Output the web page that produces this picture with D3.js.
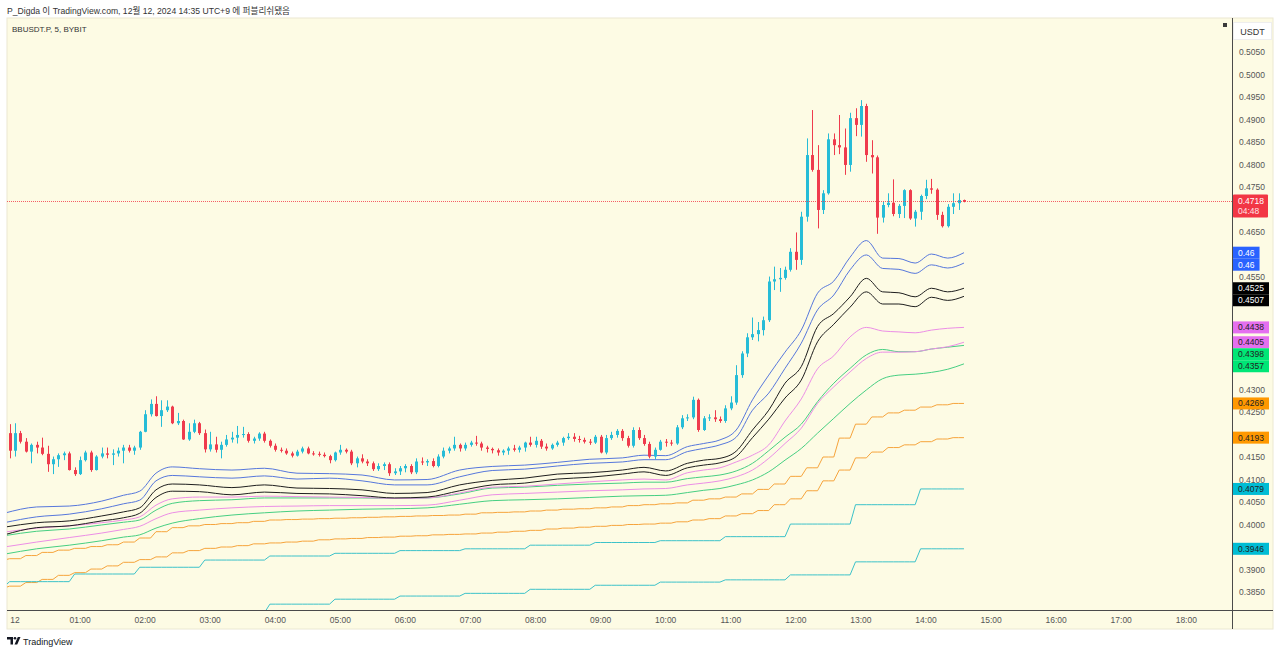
<!DOCTYPE html>
<html><head><meta charset="utf-8">
<script src="https://cdnjs.cloudflare.com/ajax/libs/d3/7.8.5/d3.min.js"></script>
<style>
html,body{margin:0;padding:0;background:#fff;}
svg{display:block;}
text{font-family:"Liberation Sans","Noto Sans CJK KR",Arial,sans-serif;}
</style></head><body>
<svg id="chart" width="1280" height="654"></svg>
<script>
// ---------------- DATA ----------------
const headerText = "P_Digda 이 TradingView.com, 12월 12, 2024 14:35 UTC+9 에 퍼블리쉬됐음";
const symbolText = "BBUSDT.P, 5, BYBIT";
const currency = "USDT";
const countdown = "04:48";
const dayStart = new Date(2024, 11, 12, 0, 0);
const axisEnd = new Date(2024, 11, 12, 18, 0);
const firstCandle = -1; // candle index (5-minute steps from 00:00) of the first candle

const open = [0.4203,0.4164,0.4203,0.4184,0.4162,0.4177,0.4171,0.4157,0.4134,0.4145,
0.4154,0.4158,0.4121,0.4112,0.4143,0.4160,0.4121,0.4151,0.4158,0.4155,
0.4158,0.4164,0.4171,0.4164,0.4171,0.4206,0.4245,0.4268,0.4241,0.4254,
0.4262,0.4225,0.4230,0.4189,0.4206,0.4225,0.4203,0.4167,0.4178,0.4166,
0.4177,0.4189,0.4193,0.4199,0.4201,0.4186,0.4191,0.4202,0.4186,0.4175,
0.4166,0.4164,0.4158,0.4153,0.4162,0.4169,0.4158,0.4157,0.4155,0.4152,
0.4143,0.4160,0.4166,0.4162,0.4136,0.4147,0.4140,0.4136,0.4123,0.4130,
0.4134,0.4114,0.4118,0.4125,0.4130,0.4116,0.4140,0.4138,0.4141,0.4130,
0.4151,0.4164,0.4169,0.4177,0.4169,0.4177,0.4182,0.4180,0.4171,0.4168,
0.4165,0.4160,0.4164,0.4169,0.4166,0.4171,0.4182,0.4177,0.4186,0.4173,
0.4169,0.4177,0.4182,0.4192,0.4195,0.4190,0.4188,0.4184,0.4182,0.4195,
0.4160,0.4192,0.4199,0.4208,0.4192,0.4175,0.4210,0.4192,0.4179,0.4151,
0.4166,0.4184,0.4182,0.4180,0.4216,0.4236,0.4238,0.4277,0.4210,0.4236,
0.4238,0.4234,0.4230,0.4258,0.4271,0.4332,0.4380,0.4416,0.4423,0.4432,
0.4454,0.4540,0.4545,0.4548,0.4566,0.4606,0.4588,0.4684,0.4821,0.4788,
0.4699,0.4736,0.4856,0.4843,0.4838,0.4799,0.4903,0.4888,0.4930,0.4821,
0.4816,0.4682,0.4710,0.4715,0.4690,0.4708,0.4743,0.4680,0.4695,0.4730,
0.4747,0.4744,0.4688,0.4663,0.4706,0.4714,0.4721];
const high = [0.4223,0.4225,0.4208,0.4192,0.4180,0.4184,0.4193,0.4175,0.4151,0.4158,
0.4162,0.4162,0.4127,0.4151,0.4164,0.4164,0.4154,0.4171,0.4171,0.4167,
0.4171,0.4177,0.4177,0.4175,0.4208,0.4254,0.4278,0.4285,0.4276,0.4276,
0.4264,0.4248,0.4233,0.4225,0.4233,0.4228,0.4211,0.4206,0.4195,0.4184,
0.4199,0.4206,0.4219,0.4217,0.4205,0.4195,0.4205,0.4206,0.4189,0.4180,
0.4171,0.4169,0.4162,0.4166,0.4173,0.4173,0.4163,0.4162,0.4160,0.4155,
0.4162,0.4177,0.4169,0.4166,0.4151,0.4156,0.4145,0.4140,0.4136,0.4138,
0.4138,0.4125,0.4130,0.4134,0.4134,0.4147,0.4149,0.4145,0.4147,0.4156,
0.4171,0.4173,0.4195,0.4180,0.4182,0.4186,0.4197,0.4184,0.4175,0.4171,
0.4169,0.4167,0.4173,0.4177,0.4175,0.4184,0.4195,0.4195,0.4190,0.4180,
0.4180,0.4186,0.4195,0.4203,0.4203,0.4197,0.4193,0.4190,0.4199,0.4199,
0.4199,0.4206,0.4212,0.4212,0.4197,0.4216,0.4216,0.4199,0.4184,0.4171,
0.4188,0.4190,0.4188,0.4221,0.4243,0.4245,0.4284,0.4280,0.4241,0.4245,
0.4254,0.4240,0.4265,0.4285,0.4354,0.4385,0.4425,0.4460,0.4450,0.4462,
0.4551,0.4573,0.4570,0.4573,0.4614,0.4649,0.4695,0.4858,0.4921,0.4843,
0.4743,0.4869,0.4869,0.4910,0.4880,0.4915,0.4925,0.4943,0.4935,0.4854,
0.4820,0.4718,0.4736,0.4767,0.4712,0.4745,0.4745,0.4699,0.4733,0.4766,
0.4768,0.4747,0.4695,0.4712,0.4736,0.4736,0.4722];
const low = [0.4147,0.4151,0.4180,0.4160,0.4136,0.4158,0.4154,0.4117,0.4112,0.4128,
0.4143,0.4120,0.4108,0.4110,0.4140,0.4117,0.4120,0.4147,0.4147,0.4132,
0.4151,0.4136,0.4160,0.4155,0.4166,0.4205,0.4240,0.4240,0.4217,0.4250,
0.4223,0.4221,0.4188,0.4186,0.4203,0.4199,0.4160,0.4162,0.4160,0.4147,
0.4173,0.4182,0.4180,0.4193,0.4182,0.4180,0.4186,0.4182,0.4171,0.4162,
0.4160,0.4155,0.4149,0.4151,0.4158,0.4156,0.4153,0.4151,0.4149,0.4136,
0.4140,0.4155,0.4158,0.4132,0.4127,0.4136,0.4130,0.4119,0.4119,0.4121,
0.4108,0.4110,0.4110,0.4116,0.4112,0.4112,0.4132,0.4130,0.4127,0.4127,
0.4147,0.4158,0.4164,0.4162,0.4164,0.4173,0.4175,0.4164,0.4160,0.4158,
0.4153,0.4154,0.4155,0.4162,0.4160,0.4162,0.4173,0.4171,0.4168,0.4164,
0.4166,0.4173,0.4175,0.4188,0.4184,0.4182,0.4180,0.4177,0.4179,0.4158,
0.4156,0.4188,0.4193,0.4186,0.4171,0.4171,0.4188,0.4175,0.4147,0.4145,
0.4164,0.4173,0.4175,0.4177,0.4212,0.4230,0.4234,0.4206,0.4208,0.4230,
0.4228,0.4226,0.4226,0.4254,0.4266,0.4326,0.4372,0.4410,0.4407,0.4420,
0.4450,0.4521,0.4517,0.4544,0.4562,0.4566,0.4577,0.4673,0.4784,0.4658,
0.4690,0.4733,0.4821,0.4823,0.4777,0.4784,0.4863,0.4862,0.4806,0.4780,
0.4646,0.4671,0.4705,0.4685,0.4681,0.4681,0.4677,0.4662,0.4677,0.4723,
0.4735,0.4677,0.4660,0.4660,0.4690,0.4699,0.4716];
const close = [0.4164,0.4203,0.4184,0.4162,0.4177,0.4171,0.4157,0.4134,0.4145,0.4154,
0.4158,0.4121,0.4112,0.4143,0.4160,0.4121,0.4151,0.4158,0.4155,0.4158,
0.4164,0.4171,0.4164,0.4171,0.4206,0.4245,0.4268,0.4241,0.4254,0.4262,
0.4225,0.4230,0.4189,0.4206,0.4225,0.4203,0.4167,0.4178,0.4166,0.4177,
0.4189,0.4193,0.4199,0.4201,0.4186,0.4191,0.4202,0.4186,0.4175,0.4166,
0.4164,0.4158,0.4153,0.4162,0.4169,0.4158,0.4157,0.4155,0.4152,0.4143,
0.4160,0.4166,0.4162,0.4136,0.4147,0.4140,0.4136,0.4123,0.4130,0.4134,
0.4114,0.4118,0.4125,0.4130,0.4116,0.4140,0.4138,0.4141,0.4130,0.4151,
0.4164,0.4169,0.4177,0.4169,0.4177,0.4182,0.4180,0.4171,0.4168,0.4165,
0.4160,0.4164,0.4169,0.4166,0.4171,0.4182,0.4177,0.4186,0.4173,0.4169,
0.4177,0.4182,0.4192,0.4195,0.4190,0.4188,0.4184,0.4182,0.4195,0.4160,
0.4192,0.4199,0.4208,0.4192,0.4175,0.4210,0.4192,0.4179,0.4151,0.4166,
0.4184,0.4182,0.4180,0.4216,0.4236,0.4238,0.4277,0.4210,0.4236,0.4238,
0.4234,0.4230,0.4258,0.4271,0.4332,0.4380,0.4416,0.4423,0.4432,0.4454,
0.4540,0.4545,0.4548,0.4566,0.4606,0.4588,0.4684,0.4821,0.4788,0.4699,
0.4736,0.4856,0.4843,0.4838,0.4799,0.4903,0.4888,0.4930,0.4821,0.4816,
0.4682,0.4710,0.4715,0.4690,0.4708,0.4743,0.4680,0.4695,0.4730,0.4747,
0.4744,0.4688,0.4663,0.4706,0.4714,0.4721,0.4718];

// 5-minute moving lines, read at these candle indices
const lineIdx = [-2,4,10,16,20,23,26,29,34,40,46,52,58,64,70,76,82,88,94,100,106,112,116,120,124,127,130,133,136,139,142,145,148,151,154,157,160,163,166,169,172,175];
const blue1 = [0.4025,0.4039,0.4041,0.4052,0.4065,0.4074,0.4114,0.4128,0.4124,0.4121,0.4125,0.4114,0.4113,0.4110,0.4099,0.4100,0.4121,0.4129,0.4132,0.4138,0.4145,0.4148,0.4154,0.4153,0.4173,0.4180,0.4188,0.4210,0.4277,0.4332,0.4383,0.4432,0.4514,0.4541,0.4594,0.4631,0.4592,0.4591,0.4581,0.4601,0.4592,0.4604];
const blue2 = [0.4004,0.4017,0.4023,0.4035,0.4046,0.4054,0.4097,0.4109,0.4106,0.4103,0.4108,0.4101,0.4103,0.4097,0.4088,0.4088,0.4106,0.4120,0.4123,0.4130,0.4136,0.4139,0.4144,0.4144,0.4162,0.4169,0.4177,0.4194,0.4254,0.4292,0.4347,0.4403,0.4477,0.4510,0.4566,0.4599,0.4569,0.4567,0.4558,0.4577,0.4570,0.4581];
const black1 = [0.3994,0.4004,0.4008,0.4019,0.4028,0.4037,0.4077,0.4090,0.4088,0.4082,0.4088,0.4081,0.4080,0.4077,0.4069,0.4071,0.4088,0.4098,0.4103,0.4112,0.4115,0.4121,0.4127,0.4119,0.4136,0.4143,0.4147,0.4163,0.4210,0.4254,0.4314,0.4351,0.4440,0.4469,0.4506,0.4547,0.4517,0.4515,0.4506,0.4525,0.4517,0.4525];
const black2 = [0.3977,0.3993,0.3997,0.4008,0.4015,0.4025,0.4060,0.4074,0.4073,0.4066,0.4072,0.4069,0.4068,0.4064,0.4059,0.4061,0.4075,0.4088,0.4092,0.4101,0.4105,0.4112,0.4117,0.4109,0.4126,0.4132,0.4137,0.4151,0.4193,0.4234,0.4281,0.4321,0.4406,0.4445,0.4483,0.4517,0.4490,0.4490,0.4484,0.4505,0.4498,0.4507];
const pink1 = [0.3983,0.3992,0.3997,0.4004,0.4010,0.4017,0.4043,0.4057,0.4061,0.4061,0.4063,0.4062,0.4061,0.4060,0.4058,0.4059,0.4070,0.4083,0.4085,0.4090,0.4095,0.4099,0.4101,0.4099,0.4115,0.4121,0.4126,0.4139,0.4154,0.4177,0.4230,0.4279,0.4346,0.4375,0.4417,0.4438,0.4430,0.4428,0.4426,0.4432,0.4436,0.4438];
const pink2 = [0.3950,0.3961,0.3971,0.3981,0.3989,0.3996,0.4013,0.4026,0.4032,0.4037,0.4040,0.4041,0.4042,0.4042,0.4042,0.4043,0.4054,0.4066,0.4069,0.4072,0.4075,0.4077,0.4079,0.4080,0.4088,0.4092,0.4097,0.4106,0.4121,0.4147,0.4180,0.4214,0.4269,0.4306,0.4339,0.4369,0.4383,0.4383,0.4384,0.4390,0.4395,0.4405];
const green1 = [0.3975,0.3985,0.3990,0.3999,0.4005,0.4010,0.4032,0.4047,0.4053,0.4055,0.4059,0.4059,0.4059,0.4059,0.4058,0.4059,0.4068,0.4081,0.4083,0.4087,0.4090,0.4092,0.4094,0.4094,0.4102,0.4106,0.4110,0.4119,0.4136,0.4164,0.4194,0.4223,0.4273,0.4314,0.4347,0.4377,0.4389,0.4384,0.4384,0.4390,0.4394,0.4398];
const green2 = [0.3934,0.3946,0.3954,0.3964,0.3972,0.3977,0.3992,0.4003,0.4013,0.4021,0.4026,0.4030,0.4032,0.4034,0.4035,0.4037,0.4045,0.4053,0.4055,0.4057,0.4060,0.4063,0.4064,0.4065,0.4071,0.4076,0.4080,0.4088,0.4099,0.4117,0.4143,0.4169,0.4203,0.4236,0.4269,0.4299,0.4324,0.4332,0.4334,0.4338,0.4345,0.4357];

// 15-minute lines (one value per 15-minute bar, bars -1..58)
const orange1 = [0.3921,0.3924,0.3931,0.3938,0.3943,0.3947,0.3951,0.3955,0.3961,0.3970,
0.3984,0.3993,0.3997,0.4000,0.4002,0.4004,0.4007,0.4010,0.4011,0.4012,
0.4013,0.4014,0.4015,0.4016,0.4017,0.4018,0.4019,0.4020,0.4021,0.4023,
0.4026,0.4027,0.4028,0.4030,0.4032,0.4034,0.4035,0.4037,0.4039,0.4042,
0.4044,0.4046,0.4048,0.4054,0.4057,0.4061,0.4068,0.4078,0.4090,0.4107,
0.4126,0.4150,0.4192,0.4223,0.4239,0.4248,0.4254,0.4261,0.4266,0.4269];
const orange2 = [0.3859,0.3863,0.3871,0.3878,0.3887,0.3893,0.3901,0.3908,0.3916,0.3922,
0.3928,0.3937,0.3942,0.3947,0.3950,0.3953,0.3957,0.3959,0.3961,0.3963,
0.3966,0.3968,0.3969,0.3971,0.3972,0.3974,0.3975,0.3977,0.3978,0.3979,
0.3981,0.3983,0.3985,0.3987,0.3990,0.3992,0.3994,0.3996,0.3998,0.4000,
0.4001,0.4003,0.4006,0.4010,0.4013,0.4019,0.4024,0.4031,0.4044,0.4057,
0.4075,0.4097,0.4121,0.4148,0.4161,0.4171,0.4177,0.4184,0.4190,0.4193];
// 1-hour lines (one value per hour bar, bars -1..14)
const cyan1 = [0.3862,0.3873,0.3890,0.3905,0.3921,0.3930,0.3936,0.3942,0.3946,0.3954,0.3960,0.3964,0.3973,0.4001,0.4044,0.4079];
const cyan2 = [0.3785,0.3790,0.3796,0.3800,0.3804,0.3823,0.3834,0.3841,0.3847,0.3856,0.3865,0.3872,0.3877,0.3888,0.3917,0.3946];

const yTickValues = d3.range(77, 102).map(k => +(k * 0.005).toFixed(4));

// ---------------- LAYOUT ----------------
const svg = d3.select("#chart");
const plotL = 7, plotR = 1232, plotT = 18, plotB = 610, panelR = 1273, panelB = 629;
const cream = "#fdfbe4";
const upCol = "#26bcd7", downCol = "#ef3b4d";
const FIVE = 5 * 60000;
const tOf = i => new Date(dayStart.getTime() + i * FIVE);

const x = d3.scaleTime().domain([dayStart, axisEnd]).range([15, 1186.3]);
const y = d3.scaleLinear().domain([0.3850, 0.5050]).range([592, 52]);

svg.append("rect").attr("width", 1280).attr("height", 654).attr("fill", "#fff");
svg.append("rect").attr("x", plotL).attr("y", plotT).attr("width", panelR - plotL).attr("height", panelB - plotT)
  .attr("fill", cream).attr("stroke", "#ebe8d2").attr("stroke-width", 1);

svg.append("text").attr("x", 7).attr("y", 13.5).attr("font-size", 8.6).attr("fill", "#333").text(headerText);
svg.append("text").attr("x", 12).attr("y", 31.5).attr("font-size", 8).attr("fill", "#333").text(symbolText);

svg.append("defs").append("clipPath").attr("id", "plotclip").append("rect")
  .attr("x", plotL).attr("y", plotT).attr("width", plotR - plotL).attr("height", plotB - plotT);
const plot = svg.append("g").attr("clip-path", "url(#plotclip)");

// ---------------- PRICE TAG POSITIONS ----------------
const last = close[close.length - 1];
const tags = [
  { v: blue1[blue1.length - 1], fmt: ".2f", bg: "#2962ff", fg: "#fff" },
  { v: blue2[blue2.length - 1], fmt: ".2f", bg: "#2962ff", fg: "#fff" },
  { v: black1[black1.length - 1], fmt: ".4f", bg: "#000", fg: "#fff" },
  { v: black2[black2.length - 1], fmt: ".4f", bg: "#000", fg: "#fff" },
  { v: pink1[pink1.length - 1], fmt: ".4f", bg: "#e46fef", fg: "#222" },
  { v: pink2[pink2.length - 1], fmt: ".4f", bg: "#e46fef", fg: "#222" },
  { v: green1[green1.length - 1], fmt: ".4f", bg: "#00e676", fg: "#222" },
  { v: green2[green2.length - 1], fmt: ".4f", bg: "#00e676", fg: "#222" },
  { v: orange1[orange1.length - 1], fmt: ".4f", bg: "#ff9800", fg: "#222" },
  { v: orange2[orange2.length - 1], fmt: ".4f", bg: "#ff9800", fg: "#222" },
  { v: cyan1[cyan1.length - 1], fmt: ".4f", bg: "#00bcd4", fg: "#222" },
  { v: cyan2[cyan2.length - 1], fmt: ".4f", bg: "#00bcd4", fg: "#222" }
];
tags.forEach(t => t.y = y(t.v));
tags.sort((a, b) => a.y - b.y);
for (let k = 1; k < tags.length; k++) if (tags[k].y - tags[k - 1].y < 12) tags[k].y = tags[k - 1].y + 12;
const covered = tags.map(t => [t.y - 6, t.y + 6]).concat([[y(last) - 7, y(last) + 16]]);
const isCovered = v => covered.some(([a, b]) => y(v) > a - 1 && y(v) < b + 1);

// y ticks (right): labels hidden behind a price tag are not drawn
svg.append("g").selectAll("text").data(yTickValues.filter(v => !isCovered(v))).join("text")
  .attr("x", 1239).attr("y", d => y(d) + 3).attr("font-size", 8.5).attr("fill", "#555")
  .text(d => d3.format(".4f")(d));

// x ticks
const xTicks = x.ticks(d3.timeHour.every(1));
svg.append("g").selectAll("text").data(xTicks).join("text")
  .attr("x", d => x(d)).attr("y", 623).attr("text-anchor", "middle").attr("font-size", 8.5).attr("fill", "#555")
  .text(d => d.getHours() === 0 ? d3.timeFormat("%-d")(d) : d3.timeFormat("%H:%M")(d));

// axis lines
svg.append("line").attr("x1", plotL).attr("x2", panelR).attr("y1", plotB + 0.5).attr("y2", plotB + 0.5).attr("stroke", "#4a4a4a");
svg.append("line").attr("x1", plotR + 0.5).attr("x2", plotR + 0.5).attr("y1", plotT).attr("y2", panelB).attr("stroke", "#4a4a4a");

// ---------------- LINES ----------------
const lineGen = d3.line().x(d => x(tOf(d[0]))).y(d => y(d[1])).curve(d3.curveMonotoneX);
const rawLine = d3.line().x(d => x(tOf(d[0]))).y(d => y(d[1]));
const smooth = [
  [green2, "#46cf82"], [green1, "#46cf82"], [pink2, "#ec8ee6"], [pink1, "#ec8ee6"],
  [black2, "#1e1e1e"], [black1, "#1e1e1e"], [blue2, "#5677dc"], [blue1, "#5677dc"]
];
smooth.forEach(([vals, col]) => {
  plot.append("path").datum(lineIdx.map((i, k) => [i, vals[k]]))
    .attr("d", lineGen).attr("fill", "none").attr("stroke", col).attr("stroke-width", 1);
});
const candleIdx = d3.range(-2, firstCandle + close.length);
function htf(vals, per) {
  return candleIdx.map(i => [i, vals[Math.floor((i + 1) / per) + 1]]);
}
[[orange1, 3, "#f6a43c"], [orange2, 3, "#f6a43c"], [cyan1, 12, "#3cc2c9"], [cyan2, 12, "#3cc2c9"]].forEach(([vals, per, col]) => {
  plot.append("path").datum(htf(vals, per)).attr("d", rawLine)
    .attr("fill", "none").attr("stroke", col).attr("stroke-width", 1);
});

// ---------------- CANDLES ----------------
const candles = close.map((c, k) => ({ i: firstCandle + k, o: open[k], h: high[k], l: low[k], c }));
const cg = plot.append("g");
candles.forEach(d => {
  const cx = Math.round(x(tOf(d.i)));
  const col = d.c >= d.o ? upCol : downCol;
  const hi = Math.max(d.h, d.o, d.c), lo = Math.min(d.l, d.o, d.c);
  cg.append("line").attr("x1", cx + 0.5).attr("x2", cx + 0.5).attr("y1", y(hi)).attr("y2", y(lo))
    .attr("stroke", col).attr("stroke-width", 1);
  const yt = y(Math.max(d.o, d.c)), yb = y(Math.min(d.o, d.c));
  cg.append("rect").attr("x", cx - 1).attr("y", yt).attr("width", 3).attr("height", Math.max(1, yb - yt)).attr("fill", col);
});

// current price line
const yLast = Math.round(y(last)) + 0.5;
svg.append("line").attr("x1", plotL).attr("x2", plotR).attr("y1", yLast).attr("y2", yLast)
  .attr("stroke", "#f23645").attr("stroke-width", 1).attr("stroke-dasharray", "1,1").attr("stroke-opacity", 0.8);

// ---------------- PRICE TAGS ----------------
const tg = svg.append("g");
tags.forEach(t => {
  const g = tg.append("g");
  const rect = g.append("rect").attr("x", plotR + 1).attr("y", t.y - 6).attr("height", 12).attr("fill", t.bg);
  const txt = g.append("text").attr("x", plotR + 6).attr("y", t.y + 3).attr("font-size", 8.5).attr("fill", t.fg)
    .text(d3.format(t.fmt)(t.v));
  const w = txt.node().getComputedTextLength();
  rect.attr("width", w + 10);
});
// last price tag
const lp = svg.append("g");
lp.append("rect").attr("x", plotR + 1).attr("y", y(last) - 7).attr("width", 35).attr("height", 23).attr("rx", 1).attr("fill", "#f23645");
lp.append("text").attr("x", plotR + 6).attr("y", y(last) + 3).attr("font-size", 8.5).attr("fill", "#fff").text(d3.format(".4f")(last));
lp.append("text").attr("x", plotR + 6).attr("y", y(last) + 13).attr("font-size", 8.5).attr("fill", "#ffe3e5").text(countdown);

// currency box and small square
svg.append("rect").attr("x", plotR + 1.5).attr("y", 22.5).attr("width", 38).attr("height", 17).attr("fill", "#fff").attr("stroke", "#eeeeee");
svg.append("text").attr("x", plotR + 20.5).attr("y", 34.5).attr("text-anchor", "middle").attr("font-size", 9).attr("fill", "#333").text(currency);
svg.append("rect").attr("x", 1223).attr("y", 23).attr("width", 4).attr("height", 4).attr("fill", "#3a3a3a");

// TradingView logo
const logo = svg.append("g").attr("fill", "#131722");
logo.append("rect").attr("x", 7).attr("y", 637).attr("width", 6).attr("height", 2.5);
logo.append("rect").attr("x", 10.5).attr("y", 637).attr("width", 2.5).attr("height", 7.5);
logo.append("circle").attr("cx", 15).attr("cy", 638.3).attr("r", 1.3);
logo.append("path").attr("d", "M14.5,644.5 L17.8,637 L20.5,637 L17.2,644.5 Z");
svg.append("text").attr("x", 23).attr("y", 644.5).attr("font-size", 9).attr("fill", "#131722").text("TradingView");
</script>
</body></html>
